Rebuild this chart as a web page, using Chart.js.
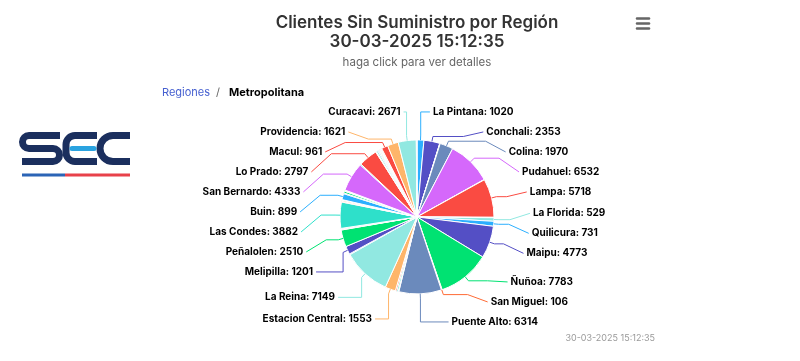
<!DOCTYPE html>
<html lang="es">
<head>
<meta charset="utf-8">
<title>Clientes Sin Suministro por Región</title>
<script src="https://cdn.jsdelivr.net/npm/chart.js@4.4.1/dist/chart.umd.min.js"></script>
<style>
  html, body { margin: 0; padding: 0; background: #fff; }
  #wrap { position: relative; width: 800px; height: 361px; }
  #logo { position: absolute; left: 0; top: 0; }
</style>
</head>
<body>
<div id="wrap">
  <canvas id="chart"></canvas>
  <svg id="logo" width="150" height="190" viewBox="0 0 150 190">
    <g fill="none" stroke="#1b2f5e" stroke-width="7">
      <path d="M60 135.5H29a6.5 6.5 0 0 0 0 13h24a6.5 6.5 0 0 1 0 13H22"/>
      <path d="M97 135.5H75a9 9 0 0 0-9 9v8a9 9 0 0 0 9 9h22"/>
      <path d="M130 135.5h-17a13 13 0 0 0 0 26h17"/>
    </g>
    <path d="M72 148.5h22" stroke="#2aa3e0" stroke-width="5" stroke-linecap="round"/>
    <rect x="22" y="173.5" width="43" height="3" fill="#2b64b6"/>
    <rect x="65" y="173.5" width="65" height="3" fill="#e8414a"/>
  </svg>
</div>
<script>
// slices in drawing order, clockwise from the top
// '' = slice whose label is hidden in the original (too small / overlapping)
const comunas = ['La Pintana', 'Conchali', '', '', 'Colina', 'Pudahuel', '', 'Lampa', '', 'La Florida',
  'Quilicura', 'Maipu', 'Ñuñoa', 'San Miguel', 'Puente Alto', '', '', '', 'Estacion Central', 'La Reina',
  '', 'Melipilla', 'Peñalolen', '', '', '', 'Las Condes', '', '', '',
  'Buin', '', '', '', '', 'San Bernardo', '', 'Lo Prado', '', '',
  '', '', '', '', '', '', '', 'Macul', 'Providencia', 'Curacavi',
  '', ''];
const clientes = [1020, 2353, 40, 30, 1970, 6532, 50, 5718, 60, 529,
  731, 4773, 7783, 106, 6314, 100, 220, 200, 1553, 7149,
  120, 1201, 2510, 80, 90, 70, 3882, 100, 180, 80,
  899, 110, 280, 80, 90, 4333, 150, 2797, 110, 240,
  130, 80, 100, 90, 70, 110, 80, 961, 1621, 2671,
  60, 40];
const fecha = '30-03-2025 15:12:35';
const palette = ['#2caffe', '#544fc5', '#00e272', '#fe6a35', '#6b8abc', '#d568fb', '#2ee0ca', '#fa4b42', '#feb56a', '#91e8e1'];

const FONT = 'Inter, "Noto Sans", sans-serif';

function spread(items, gap, lo, hi) {
  items.sort((a, b) => a.target - b.target);
  const groups = items.map(it => ({ items: [it], pos: it.target }));
  let changed = true;
  while (changed) {
    changed = false;
    groups.forEach(g => {
      const n = g.items.length;
      const mean = g.items.reduce((s, it, k) => s + it.target - k * gap, 0) / n;
      g.pos = Math.min(Math.max(mean, lo), hi - (n - 1) * gap);
    });
    for (let k = 0; k < groups.length - 1; k++) {
      const a = groups[k], b = groups[k + 1];
      if (a.pos + a.items.length * gap > b.pos + 0.01) {
        a.items = a.items.concat(b.items);
        groups.splice(k + 1, 1);
        changed = true;
        break;
      }
    }
  }
  groups.forEach(g => g.items.forEach((it, k) => { it.ly = g.pos + k * gap; }));
}

const pieLabels = {
  id: 'pieLabels',
  afterDatasetsDraw(chart) {
    const ctx = chart.ctx;
    const arcs = chart.getDatasetMeta(0).data;
    const right = [], left = [];
    let cx = 0, cy = 0, r = 0;
    arcs.forEach((arc, i) => {
      const p = arc.getProps(['x', 'y', 'startAngle', 'endAngle', 'outerRadius'], true);
      cx = p.x; cy = p.y; r = p.outerRadius;
      if (!comunas[i]) return;
      const mid = (p.startAngle + p.endAngle) / 2;
      const item = { i, mid, target: cy + Math.sin(mid) * (r + 32) };
      (Math.cos(mid) >= 0 ? right : left).push(item);
    });
    spread(right, 20, cy - r - 28, cy + r + 28);
    spread(left, 20, cy - r - 28, cy + r + 25);

    ctx.save();
    ctx.font = 'bold 10px ' + FONT;
    ctx.textBaseline = 'middle';
    [[right, 1], [left, -1]].forEach(([items, side]) => {
      items.forEach(it => {
        const dy = it.ly - cy;
        const ry = dy < 0 ? r + 29 : r + 33;
        const f = Math.sqrt(Math.max(0, 1 - Math.pow(dy / ry, 2)));
        const textX = cx + side * (side > 0 ? r + 39 : r + 43) * f;
        const anchor = textX - side * 3;
        const tx = cx + Math.cos(it.mid) * r, ty = cy + Math.sin(it.mid) * r;
        const bx = cx + Math.cos(it.mid) * (r + 5), by = cy + Math.sin(it.mid) * (r + 5);
        ctx.beginPath();
        ctx.moveTo(tx, ty);
        ctx.lineTo(bx, by);
        if (Math.abs(it.ly - by) > Math.abs(anchor - bx) * 0.6) {
          ctx.lineTo(bx, it.ly);
        } else {
          const crook = side > 0 ? Math.max(bx, anchor - 20) : Math.min(bx, anchor + 20);
          ctx.lineTo(crook, by);
        }
        ctx.lineTo(anchor, it.ly);
        ctx.strokeStyle = palette[it.i % palette.length];
        ctx.lineWidth = 1;
        ctx.stroke();
        ctx.fillStyle = '#000';
        ctx.textAlign = side > 0 ? 'left' : 'right';
        ctx.fillText(comunas[it.i] + ': ' + clientes[it.i], textX, it.ly);
      });
    });
    ctx.restore();
  },
  afterDraw(chart) {
    const ctx = chart.ctx;
    ctx.save();
    // breadcrumb
    ctx.textBaseline = 'middle';
    ctx.textAlign = 'left';
    ctx.font = '11px ' + FONT;
    ctx.fillStyle = '#4660d0';
    ctx.fillText('Regiones', 162, 93);
    ctx.fillStyle = '#666';
    ctx.fillText('/', 216, 93);
    ctx.font = 'bold 11px ' + FONT;
    ctx.fillStyle = '#000';
    ctx.fillText('Metropolitana', 229, 93);
    // credits
    ctx.font = '9px ' + FONT;
    ctx.fillStyle = '#999';
    ctx.textAlign = 'right';
    ctx.fillText(fecha, 655, 338);
    // menu icon
    ctx.strokeStyle = '#666';
    ctx.lineWidth = 2.5;
    ctx.lineCap = 'round';
    [18.5, 23.5, 28.5].forEach(y => {
      ctx.beginPath();
      ctx.moveTo(637, y);
      ctx.lineTo(649, y);
      ctx.stroke();
    });
    ctx.restore();
  }
};

new Chart(document.getElementById('chart'), {
  type: 'pie',
  data: {
    labels: comunas,
    datasets: [{
      data: clientes,
      backgroundColor: comunas.map((c, i) => palette[i % palette.length]),
      borderColor: '#fff',
      borderWidth: 1,
      radius: 77
    }]
  },
  options: {
    responsive: true,
    maintainAspectRatio: false,
    animation: false,
    layout: { padding: { left: 34, right: 0, top: 0, bottom: 2 } },
    plugins: {
      legend: { display: false },
      title: {
        display: true,
        text: ['Clientes Sin Suministro por Región', fecha],
        color: '#333',
        font: { family: FONT, size: 17, weight: '600', lineHeight: 1.15 },
        padding: { top: 13, bottom: 4 }
      },
      subtitle: {
        display: true,
        text: 'haga click para ver detalles',
        color: '#666',
        font: { family: FONT, size: 11.5, lineHeight: 1.2 },
        padding: { top: 0, bottom: 5 }
      },
      tooltip: { filter: item => !!comunas[item.dataIndex] }
    }
  },
  plugins: [pieLabels]
});
</script>
</body>
</html>
